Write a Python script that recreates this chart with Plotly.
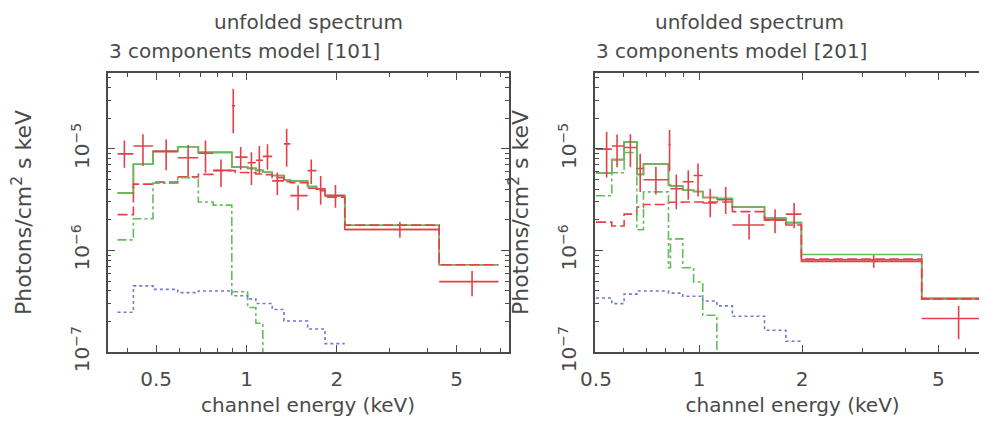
import plotly.graph_objects as go

# ---------------- Left panel: model [101] ----------------
L_edges = [0.372, 0.420, 0.488, 0.590, 0.691, 0.774, 0.893, 0.917, 1.008, 1.074,
           1.133, 1.217, 1.332, 1.399, 1.597, 1.709, 1.825, 2.123, 4.38, 6.89]
L_energy = [0.392, 0.452, 0.540, 0.639, 0.730, 0.822, 0.903, 0.956, 1.038, 1.103,
            1.174, 1.266, 1.360, 1.484, 1.642, 1.765, 1.977, 3.240, 5.634]
L_flux = [8.92e-6, 1.067e-5, 9.44e-6, 8.18e-6, 9.04e-6, 6.14e-6, 2.65e-5, 8.29e-6, 7.29e-6, 7.73e-6,
          8.42e-6, 4.84e-6, 1.12e-5, 3.46e-6, 6.10e-6, 4.05e-6, 3.46e-6, 1.61e-6, 4.94e-7]
L_flux_hi = [1.206e-5, 1.39e-5, 1.233e-5, 1.09e-5, 1.206e-5, 7.84e-6, 3.88e-5, 1.044e-5, 9.23e-6, 1.067e-5,
             1.107e-5, 5.84e-6, 1.58e-5, 4.35e-6, 7.84e-6, 5.39e-6, 4.41e-6, 1.905e-6, 6.27e-7]
L_flux_lo = [6.5e-6, 6.79e-6, 6.14e-6, 5.32e-6, 5.81e-6, 4.2e-6, 1.42e-5, 6.23e-6, 4.41e-6, 5.72e-6,
             6.23e-6, 3.51e-6, 6.68e-6, 2.48e-6, 4.51e-6, 2.82e-6, 2.63e-6, 1.33e-6, 3.54e-7]
L_total = [3.69e-6, 7.05e-6, 9.44e-6, 1.05e-5, 9.23e-6, 9.23e-6, 6.6e-6, 6.6e-6, 6.43e-6, 6.14e-6,
           5.88e-6, 5.47e-6, 4.95e-6, 4.84e-6, 4.26e-6, 4.05e-6, 3.46e-6, 1.776e-6, 7.24e-7]
L_model_red = [3.69e-6, 7.05e-6, 9.44e-6, 1.05e-5, 9.23e-6, 9.23e-6, 6.6e-6, 6.6e-6, 6.43e-6, 6.14e-6,
               5.88e-6, 5.47e-6, 4.95e-6, 4.84e-6, 4.26e-6, 4.05e-6, 3.46e-6, 1.61e-6, 7.24e-7]
L_powerlaw = [2.25e-6, 4.5e-6, 4.7e-6, 5.3e-6, 5.6e-6, 6.1e-6, 6.1e-6, 5.85e-6, 5.82e-6, 5.65e-6,
              5.58e-6, 5.21e-6, 4.75e-6, 4.64e-6, 4.09e-6, 3.88e-6, 3.34e-6, 1.776e-6, 7.24e-7]
L_thermal1 = [1.27e-6, 2.05e-6, 4.6e-6, 5.21e-6, 3.0e-6, 2.79e-6, 3.93e-7, 3.93e-7, 2.75e-7, 1.92e-7, 1e-9]
L_thermal2 = [2.47e-7, 4.48e-7, 4.14e-7, 3.85e-7, 3.99e-7, 3.99e-7, 3.58e-7, 3.58e-7, 3.34e-7, 3.01e-7,
              3.01e-7, 2.62e-7, 2.02e-7, 2.02e-7, 1.69e-7, 1.69e-7, 1.21e-7]

# ---------------- Right panel: model [201] ----------------
R_edges = [0.5, 0.556, 0.604, 0.658, 0.688, 0.814, 0.825, 0.896, 0.964, 1.025,
           1.127, 1.251, 1.553, 1.793, 1.990, 4.47, 6.96]
R_energy = [0.537, 0.576, 0.630, 0.673, 0.748, 0.820, 0.858, 0.930, 0.993, 1.078,
            1.196, 1.400, 1.667, 1.895, 3.236, 5.73]
R_flux = [9.94e-6, 1.067e-5, 1.03e-5, 6.40e-6, 4.97e-6, 1.1e-5, 4.05e-6, 4.74e-6, 5.47e-6, 2.93e-6,
          3.15e-6, 1.78e-6, 2.0e-6, 2.28e-6, 8.07e-7, 2.14e-7]
R_flux_hi = [1.47e-5, 1.38e-5, 1.39e-5, 8.92e-6, 6.68e-6, 1.53e-5, 5.6e-6, 6.14e-6, 7.19e-6, 4.05e-6,
             4.2e-6, 2.28e-6, 2.54e-6, 2.93e-6, 8.98e-7, 2.85e-7]
R_flux_lo = [5.21e-6, 6.57e-6, 6.60e-6, 3.77e-6, 3.56e-6, 6.0e-6, 2.54e-6, 3.15e-6, 3.39e-6, 2.12e-6,
             2.28e-6, 1.285e-6, 1.48e-6, 1.65e-6, 6.75e-7, 1.34e-7]
R_total = [5.8e-6, 7.84e-6, 1.17e-5, 5.6e-6, 7.09e-6, 4.4e-6, 4.3e-6, 3.91e-6, 3.8e-6, 3.32e-6,
           3.25e-6, 2.67e-6, 2.09e-6, 1.88e-6, 9.12e-7, 3.41e-7]
R_model_red = [5.8e-6, 7.84e-6, 1.17e-5, 5.6e-6, 7.09e-6, 4.4e-6, 4.3e-6, 3.91e-6, 3.8e-6, 3.32e-6,
               3.25e-6, 2.67e-6, 2.09e-6, 1.88e-6, 7.78e-7, 3.34e-7]
R_powerlaw = [1.9e-6, 1.74e-6, 2.28e-6, 2.67e-6, 2.83e-6, 2.98e-6, 2.98e-6, 3.0e-6, 3.0e-6, 3.0e-6,
              3.0e-6, 2.41e-6, 1.98e-6, 1.78e-6, 8.24e-7, 3.34e-7]
R_thermal1 = [3.45e-6, 5.81e-6, 9.2e-6, 1.6e-6, 3.77e-6, 6.75e-7, 1.30e-6, 6.75e-7, 4.89e-7, 2.3e-7, 1e-9]
R_thermal2 = [3.41e-7, 3.0e-7, 3.72e-7, 3.99e-7, 3.99e-7, 3.8e-7, 3.8e-7, 3.54e-7, 3.54e-7, 3.18e-7,
              2.85e-7, 2.25e-7, 1.64e-7, 1.28e-7]

x_tickvals = [0.5, 1, 2, 5]
x_ticktext = ["0.5", "1", "2", "5"]
x_minor = [0.4, 0.6, 0.7, 0.8, 0.9, 3, 4, 6, 7]
y_tickvals = [1e-7, 1e-6, 1e-5]
y_ticktext = ["10<sup>\u22127</sup>", "10<sup>\u22126</sup>", "10<sup>\u22125</sup>"]
y_minor = [m * 10.0 ** p for p in (-7, -6, -5) for m in range(2, 10)]

RED = "#e5404a"
GREEN = "#62bd5c"
BLUE = "#6e7bd0"
INK = "#4a4a4a"
FONT = "DejaVu Sans"
FS = 20

W, H = 987, 427

fig = go.Figure()


def add_panel(edges, energy, flux, hi, lo, total, model_red, pl, th1, th2, xa, ya):
    def step(vals, color, dash, width=1.6):
        n = len(vals)
        fig.add_trace(go.Scatter(
            x=edges[:n + 1], y=list(vals) + [vals[-1]], mode="lines",
            line=dict(color=color, dash=dash, width=width, shape="hv"),
            xaxis=xa, yaxis=ya, showlegend=False, hoverinfo="skip"))

    step(model_red, RED, "solid")
    step(total, GREEN, "solid")
    step(pl, RED, "10px,4px")
    step(th1, GREEN, "dashdot")
    step(th2, BLUE, "dot")
    n = len(energy)
    fig.add_trace(go.Scatter(
        x=energy, y=flux, mode="markers",
        marker=dict(size=1, color="rgba(0,0,0,0)"),
        error_x=dict(type="data", symmetric=False,
                     array=[edges[i + 1] - energy[i] for i in range(n)],
                     arrayminus=[energy[i] - edges[i] for i in range(n)],
                     color=RED, thickness=1.6, width=0),
        error_y=dict(type="data", symmetric=False,
                     array=[hi[i] - flux[i] for i in range(n)],
                     arrayminus=[flux[i] - lo[i] for i in range(n)],
                     color=RED, thickness=1.6, width=0),
        xaxis=xa, yaxis=ya, showlegend=False))


add_panel(L_edges, L_energy, L_flux, L_flux_hi, L_flux_lo, L_total, L_model_red,
          L_powerlaw, L_thermal1, L_thermal2, "x", "y")
add_panel(R_edges, R_energy, R_flux, R_flux_hi, R_flux_lo, R_total, R_model_red,
          R_powerlaw, R_thermal1, R_thermal2, "x2", "y2")

top_px, bot_px = 68, 361
ydom = [(H - bot_px) / H, (H - top_px) / H]


def xaxis_cfg(left_px, right_px, rng, anchor):
    return dict(
        domain=[left_px / W, right_px / W], type="log", range=rng, anchor=anchor,
        tickmode="array", tickvals=x_tickvals, ticktext=x_ticktext,
        ticks="inside", ticklen=7, tickwidth=1.2, tickcolor=INK,
        minor=dict(tickmode="array", tickvals=x_minor, ticks="inside", ticklen=4,
                   tickwidth=1.2, tickcolor=INK, showgrid=False),
        showline=True, linecolor=INK, linewidth=1.6, mirror="allticks",
        showgrid=False, zeroline=False, ticklabelstandoff=8,
        tickfont=dict(family=FONT, size=FS, color=INK),
        title=dict(text="channel energy (keV)", standoff=8,
                   font=dict(family=FONT, size=FS, color=INK)))


def yaxis_cfg(anchor, standoff):
    return dict(
        domain=ydom, type="log", range=[-7, -4.252], anchor=anchor,
        tickmode="array", tickvals=y_tickvals, ticktext=y_ticktext, tickangle=-90,
        ticks="inside", ticklen=8, tickwidth=1.2, tickcolor=INK,
        minor=dict(tickmode="array", tickvals=y_minor, ticks="inside", ticklen=4,
                   tickwidth=1.2, tickcolor=INK, showgrid=False),
        showline=True, linecolor=INK, linewidth=1.6, mirror="allticks",
        showgrid=False, zeroline=False, ticklabelstandoff=9,
        tickfont=dict(family=FONT, size=FS, color=INK),
        title=dict(text="Photons/cm<sup>2</sup> s keV", standoff=standoff,
                   font=dict(family=FONT, size=22, color=INK)))


fig.update_layout(
    width=W, height=H, margin=dict(l=0, r=0, t=0, b=0),
    paper_bgcolor="white", plot_bgcolor="white",
    xaxis=xaxis_cfg(86, 493, [-0.4623, 0.8721], "y"),
    yaxis=yaxis_cfg("x", 30),
    xaxis2=xaxis_cfg(581, 982, [-0.3035, 0.8500], "y2"),
    yaxis2=yaxis_cfg("x2", 20),
    font=dict(family=FONT, size=FS, color=INK),
)

for cx, lx, label in [(290, 85, "3 components model [101]"), (738, 580, "3 components model [201]")]:
    fig.add_annotation(text="unfolded spectrum", x=cx / W, y=1.0, xref="paper", yref="paper",
                       xanchor="center", yanchor="top", showarrow=False,
                       font=dict(family=FONT, size=FS, color=INK))
    fig.add_annotation(text=label, x=lx / W, y=1 - 30 / H, xref="paper", yref="paper",
                       xanchor="left", yanchor="top", showarrow=False,
                       font=dict(family=FONT, size=FS, color=INK))

fig.write_html("out.html")
